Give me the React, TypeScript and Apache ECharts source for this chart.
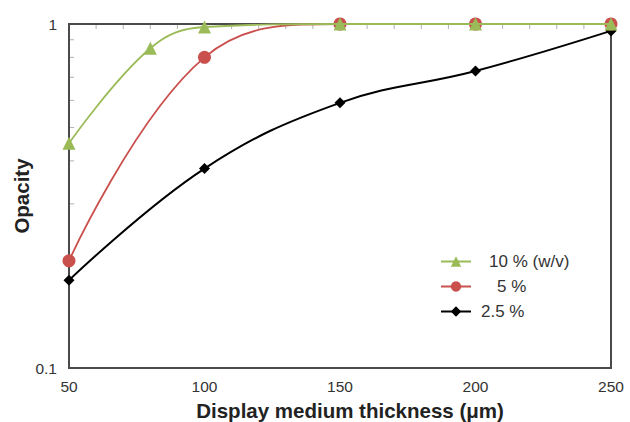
import React, { useEffect, useRef } from "react";
import * as echarts from "echarts";

const thickness = [50, 100, 150, 200, 250];
const thicknessGreen = [50, 80, 100, 150, 200, 250];
const opacity10 = [0.45, 0.85, 0.98, 1.0, 1.0, 1.0];
const opacity5 = [0.205, 0.8, 1.0, 1.0, 1.0];
const opacity25 = [0.18, 0.38, 0.59, 0.73, 0.955];
const seriesNames = ["10 % (w/v)", "5 %", "2.5 %"];
const yMinorTicks = [0.2, 0.3, 0.4, 0.5, 0.6, 0.7, 0.8, 0.9];
const xMinorTicks = [60, 70, 80, 90, 110, 120, 130, 140, 160, 170, 180, 190, 210, 220, 230, 240];

const FONT = "'Liberation Sans', Arial, sans-serif";

export default function App() {
  const ref = useRef<HTMLDivElement>(null);
  useEffect(() => {
    const chart = echarts.init(ref.current!, null, { renderer: "svg" });
    const zip = (xs: number[], ys: number[]) => xs.map((x, i) => [x, ys[i]]);
    chart.setOption({
      animation: false,
      backgroundColor: "#fff",
      textStyle: { fontFamily: FONT },
      grid: {
        left: 69,
        top: 24,
        right: 19,
        bottom: 54,
        containLabel: false,
        outerBoundsMode: "none",
        show: true,
        borderColor: "#4a4a4a",
        borderWidth: 2,
        backgroundColor: "transparent",
      },
      xAxis: {
        type: "value",
        min: 50,
        max: 250,
        interval: 50,
        name: "Display medium thickness (μm)",
        nameLocation: "middle",
        nameGap: 32,
        nameMoveOverlap: false,
        nameTextStyle: {
          fontSize: 20.5,
          fontWeight: "bold",
          color: "#222",
          fontFamily: FONT,
          padding: [0, 0, 0, 20],
        },
        axisLine: { show: true, lineStyle: { color: "#4a4a4a", width: 2 } },
        axisTick: { show: false },
        splitLine: { show: false },
        axisLabel: { fontSize: 15.5, color: "#333", margin: 10, fontFamily: FONT },
      },
      yAxis: {
        type: "log",
        logBase: 10,
        min: 0.1,
        max: 1,
        name: "Opacity",
        nameLocation: "middle",
        nameGap: 37,
        nameMoveOverlap: false,
        nameTextStyle: { fontSize: 20.5, fontWeight: "bold", color: "#222", fontFamily: FONT },
        axisLine: { show: true, lineStyle: { color: "#4a4a4a", width: 2 } },
        axisTick: { show: false },
        splitLine: { show: false },
        minorTick: { show: false },
        axisLabel: { fontSize: 15.5, color: "#333", margin: 12, fontFamily: FONT },
      },
      legend: {
        orient: "vertical",
        left: 435,
        top: 248,
        itemWidth: 30,
        itemHeight: 13,
        itemGap: 8,
        textStyle: { fontSize: 17, color: "#333", fontFamily: FONT },
        data: [
          { name: seriesNames[0], textStyle: { padding: [0, 0, 0, 13] } },
          { name: seriesNames[1], textStyle: { padding: [0, 0, 0, 21] } },
          { name: seriesNames[2], textStyle: { padding: [0, 0, 0, 5] } },
        ],
      },
      series: [
        {
          type: "custom",
          silent: true,
          clip: false,
          data: yMinorTicks.map((v) => [50, v]),
          renderItem: (_p: any, api: any) => {
            const pt = api.coord([api.value(0), api.value(1)]);
            return {
              type: "line",
              shape: { x1: pt[0] + 1, y1: pt[1], x2: pt[0] + 5, y2: pt[1] },
              style: { stroke: "#b0b0b0", lineWidth: 1 },
            };
          },
          z: 1,
        },
        {
          type: "custom",
          silent: true,
          clip: false,
          data: xMinorTicks.map((v) => [v, 1]),
          renderItem: (_p: any, api: any) => {
            const pt = api.coord([api.value(0), api.value(1)]);
            return {
              type: "line",
              shape: { x1: pt[0], y1: pt[1] + 1, x2: pt[0], y2: pt[1] + 5 },
              style: { stroke: "#b0b0b0", lineWidth: 1 },
            };
          },
          z: 1,
        },
        {
          name: seriesNames[2],
          type: "line",
          smooth: 0.4,
          data: zip(thickness, opacity25),
          symbol: "diamond",
          symbolSize: 11,
          lineStyle: { color: "#000", width: 2 },
          itemStyle: { color: "#000" },
          z: 3,
        },
        {
          name: seriesNames[1],
          type: "line",
          smooth: 0.4,
          data: zip(thickness, opacity5),
          symbol: "circle",
          symbolSize: 13,
          lineStyle: { color: "#C9504D", width: 1.8 },
          itemStyle: { color: "#C9504D" },
          z: 4,
        },
        {
          name: seriesNames[0],
          type: "line",
          smooth: 0.4,
          data: zip(thicknessGreen, opacity10),
          symbol: "triangle",
          symbolSize: 13,
          lineStyle: { color: "#9BBB59", width: 1.8 },
          itemStyle: { color: "#9BBB59" },
          z: 5,
        },
      ],
    });
    return () => chart.dispose();
  }, []);
  return <div ref={ref} style={{ width: 630, height: 422, position: "absolute", left: 0, top: 0 }} />;
}
